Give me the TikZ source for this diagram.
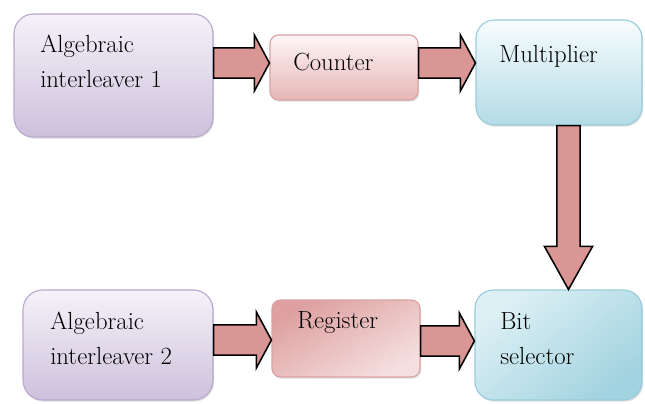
\documentclass[tikz,border=0pt]{standalone}
\usepackage{tikz}
\usetikzlibrary{shapes,arrows,calc,fit,shadows}

\definecolor{lavtop}{HTML}{F5F2F9}
\definecolor{lavbot}{HTML}{CDC1DC}
\definecolor{lavline}{HTML}{B9A9CE}
\definecolor{pinktop}{HTML}{FDF6F6}
\definecolor{pinkbot}{HTML}{E7B6B6}
\definecolor{pinkline}{HTML}{D9A3A3}
\definecolor{regdark}{HTML}{DEA0A0}
\definecolor{reglight}{HTML}{F5DFDF}
\definecolor{bluetop}{HTML}{F7FCFD}
\definecolor{bluebot}{HTML}{B3DBE6}
\definecolor{blueline}{HTML}{98CCDB}
\definecolor{sellight}{HTML}{DDF0F5}
\definecolor{seldark}{HTML}{A2D3E0}
\definecolor{arrowpink}{HTML}{D99694}

\tikzstyle{box} = [rectangle, inner sep=0pt, line width=0.8pt, drop shadow={shadow xshift=0.8pt, shadow yshift=-1.2pt, opacity=0.25}]
\tikzstyle{lavbox} = [box, draw=lavline, top color=lavtop, bottom color=lavbot, rounded corners=14pt]
\tikzstyle{pinkbox} = [box, draw=pinkline, rounded corners=6pt]
\tikzstyle{bluebox} = [box, draw=blueline, rounded corners=13pt]
\tikzstyle{txt} = [inner sep=0pt, align=left, font=\fontsize{17.6}{24.9}\selectfont]
\tikzstyle{fatarrow} = [draw=black, line width=1.1pt, fill=arrowpink, line join=miter]

% block arrow, left to right, centred on height #3
\newcommand{\harrow}[3]{%
  \draw[fatarrow] let \p1=(#1.east), \p2=(#2.west), \p3=(0,#3) in
    (\x1,\y3+10.7pt) -- (\x2-10.7pt,\y3+10.7pt) -- (\x2-10.7pt,\y3+19.9pt) -- (\x2,\y3)
    -- (\x2-10.7pt,\y3-19.9pt) -- (\x2-10.7pt,\y3-10.7pt) -- (\x1,\y3-10.7pt) -- cycle;}
% block arrow, top to bottom, centred on #3
\newcommand{\varrow}[3]{%
  \draw[fatarrow] let \p1=(#1.south), \p2=(#2.north), \p3=(#3,0) in
    (\x3-8.2pt,\y1) -- (\x3-8.2pt,\y2+30.6pt) -- (\x3-17.1pt,\y2+30.6pt) -- (\x3,\y2)
    -- (\x3+17.1pt,\y2+30.6pt) -- (\x3+8.2pt,\y2+30.6pt) -- (\x3+8.2pt,\y1) -- cycle;}

\begin{document}
\begin{tikzpicture}[x=0.025cm, y=-0.025cm]
    \useasboundingbox (0,0) rectangle (645,403);

    \node (a1) [lavbox, fit={(14,14) (213,137)}] {};
    \node (cnt) [pinkbox, top color=pinktop, bottom color=pinkbot, fit={(270,35) (418,100)}] {};
    \node (mul) [bluebox, top color=bluetop, bottom color=bluebot, fit={(476,20) (642,125)}] {};

    \node (a2) [lavbox, fit={(23,290) (213,400)}] {};
    \node (reg) [pinkbox, top color=regdark, bottom color=reglight, shading angle=30, fit={(272,300) (420,377)}] {};
    \node (bsel) [bluebox, top color=sellight, bottom color=seldark, shading angle=40, fit={(475,290) (642,400)}] {};

    \node (a1t) [txt, anchor=north west] at (40,35) {Algebraic\\interleaver 1};
    \node (cntt) [txt, anchor=base west] at (293,70) {Counter};
    \node (mult) [txt, anchor=base west] at (499,62) {Multiplier};
    \node (a2t) [txt, anchor=north west] at (50,312) {Algebraic\\interleaver 2};
    \node (regt) [txt, anchor=base west] at (297,328) {Register};
    \node (bselt) [txt, anchor=north west] at (500,312) {Bit\\selector};

    \harrow{a1}{cnt}{63}
    \harrow{cnt}{mul}{63}
    \harrow{a2}{reg}{340}
    \harrow{reg}{bsel}{341}
    \varrow{mul}{bsel}{568.5}

\end{tikzpicture}
\end{document}
